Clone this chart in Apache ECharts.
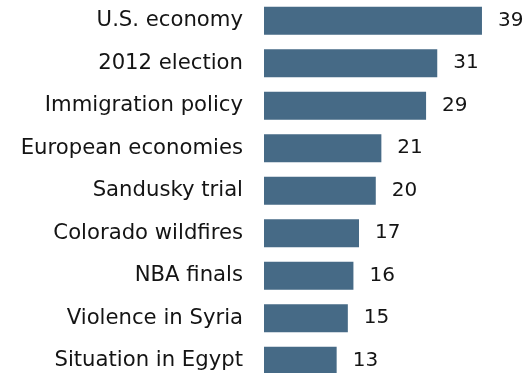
<!DOCTYPE html>
<html><head><meta charset="utf-8">
<script src="https://cdn.jsdelivr.net/npm/echarts@6/dist/echarts.min.js"></script>
<style>html,body{margin:0;padding:0;background:#fff}#c{width:530px;height:373px}</style>
</head><body><div id="c"></div>
<script>
const categories = ["U.S. economy","2012 election","Immigration policy","European economies","Sandusky trial","Colorado wildfires","NBA finals","Violence in Syria","Situation in Egypt"];
const values = [39,31,29,21,20,17,16,15,13];
const FONT = "DejaVu Sans";
const chart = echarts.init(document.getElementById('c'));
chart.setOption({
  animation:false,
  grid:{left:264, top:-0.5, width:251.5, height:382.5, outerBoundsMode:'none', containLabel:false},
  xAxis:{type:'value', min:0, max:45, show:false},
  yAxis:{type:'category', data:categories, inverse:true,
    axisLine:{show:false}, axisTick:{show:false},
    axisLabel:{margin:21, color:'#141414', fontFamily:FONT, fontSize:21.2}},
  series:[{type:'bar', data:values, barWidth:28, itemStyle:{color:'#466a86'},
    label:{show:true, position:'right', distance:16, color:'#141414', fontFamily:FONT, fontSize:20}}]
});
</script></body></html>
